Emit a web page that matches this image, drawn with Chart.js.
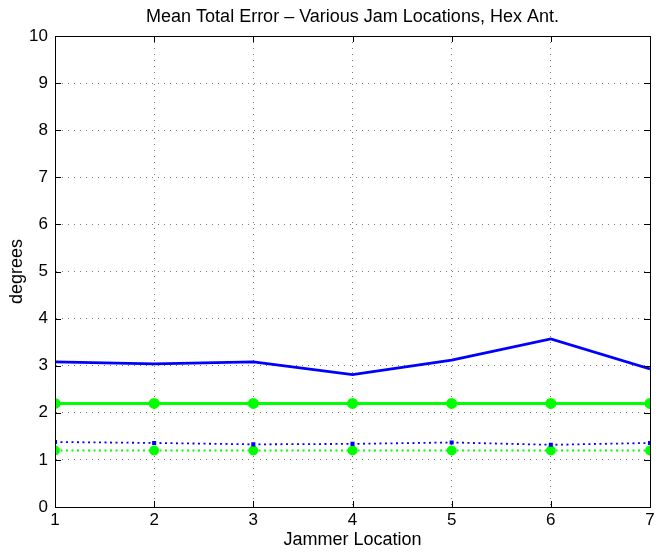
<!DOCTYPE html>
<html>
<head>
<meta charset="utf-8">
<script src="https://cdn.jsdelivr.net/npm/chart.js@4/dist/chart.umd.min.js"></script>
<style>
  html, body { margin: 0; padding: 0; background: #fff; }
  #wrap { width: 670px; height: 553px; }
</style>
</head>
<body>
<div id="wrap"><canvas id="errChart" width="670" height="553"></canvas></div>
<script>
// jammer locations on the x axis
const locations = [1, 2, 3, 4, 5, 6, 7];

// mean total error (degrees)
const blueSolid = [3.08, 3.04, 3.08, 2.81, 3.12, 3.57, 2.93];
const greenSolid = [2.2, 2.2, 2.2, 2.2, 2.2, 2.2, 2.2];
const blueDotted = [1.38, 1.36, 1.33, 1.34, 1.37, 1.32, 1.36];
const greenDotted = [1.2, 1.2, 1.2, 1.2, 1.2, 1.2, 1.2];

const yTicks = [0, 1, 2, 3, 4, 5, 6, 7, 8, 9, 10];

const FONT = "'Liberation Sans', Arial, Helvetica, sans-serif";

function toPoints(vals) {
  return locations.map((x, i) => ({ x: x, y: vals[i] }));
}

// box round the axes plus inward ticks, matlab style
const boxPlugin = {
  id: 'matlabBox',
  afterDraw(chart) {
    const ctx = chart.ctx;
    const a = chart.chartArea;
    const xs = chart.scales.x;
    const ys = chart.scales.y;
    ctx.save();
    ctx.strokeStyle = '#000';
    ctx.lineWidth = 1;
    ctx.beginPath();
    xs.ticks.forEach(t => {
      const px = Math.round(xs.getPixelForValue(t.value)) + 0.5;
      ctx.moveTo(px, a.bottom); ctx.lineTo(px, a.bottom - 6);
      ctx.moveTo(px, a.top); ctx.lineTo(px, a.top + 6);
    });
    ys.ticks.forEach(t => {
      const py = Math.round(ys.getPixelForValue(t.value)) + 0.5;
      ctx.moveTo(a.left, py); ctx.lineTo(a.left + 6, py);
      ctx.moveTo(a.right, py); ctx.lineTo(a.right - 6, py);
    });
    ctx.stroke();
    ctx.strokeRect(Math.round(a.left) + 0.5, Math.round(a.top) + 0.5,
      Math.round(a.right - a.left), Math.round(a.bottom - a.top));
    ctx.restore();
  }
};

const data = {
  datasets: [
    {
      label: 'blue solid',
      data: toPoints(blueSolid),
      borderColor: '#0000ff',
      backgroundColor: '#0000ff',
      borderWidth: 2.8,
      pointRadius: 0,
    },
    {
      label: 'green solid',
      data: toPoints(greenSolid),
      borderColor: '#00ff00',
      backgroundColor: '#00ff00',
      borderWidth: 3,
      pointRadius: 4,
    },
    {
      label: 'blue dotted',
      data: toPoints(blueDotted),
      borderColor: '#0000ff',
      backgroundColor: '#0000ff',
      borderWidth: 1.8,
      borderDash: [2, 3.5],
      pointStyle: 'rect',
      pointRadius: 1.6,
    },
    {
      label: 'green dotted',
      data: toPoints(greenDotted),
      borderColor: '#00ff00',
      backgroundColor: '#00ff00',
      borderWidth: 1.8,
      borderDash: [2, 3.5],
      pointRadius: 4,
    },
  ],
};

const config = {
  type: 'line',
  data: data,
  options: {
    responsive: false,
    animation: false,
    layout: { padding: { left: 0, right: 20, top: 0, bottom: 0 } },
    plugins: {
      legend: { display: false },
      tooltip: { enabled: false },
      title: {
        display: true,
        text: 'Mean Total Error \u2013 Various Jam Locations, Hex Ant.',
        color: '#000',
        fullSize: false,
        font: { family: FONT, size: 18, weight: 'normal' },
        padding: { top: 6, bottom: 8.4 },
      },
    },
    scales: {
      x: {
        type: 'linear',
        min: 1,
        max: 7,
        afterBuildTicks(scale) {
          scale.ticks = locations.map(v => ({ value: v }));
        },
        afterFit(scale) { scale.height = 46; },
        grid: {
          color: '#777',
          lineWidth: 1,
          drawTicks: false,
        },
        border: { display: true, color: '#000', width: 1, dash: [1, 5] },
        ticks: {
          color: '#000',
          padding: 3,
          font: { family: FONT, size: 17 },
          maxRotation: 0,
        },
        title: {
          display: true,
          text: 'Jammer Location',
          color: '#000',
          font: { family: FONT, size: 18 },
          padding: { top: 0, bottom: 2 },
        },
      },
      y: {
        type: 'linear',
        min: 0,
        max: 10,
        afterBuildTicks(scale) {
          scale.ticks = yTicks.map(v => ({ value: v }));
        },
        afterFit(scale) { scale.width = 55; },
        grid: {
          color: '#777',
          lineWidth: 1,
          drawTicks: false,
        },
        border: { display: true, color: '#000', width: 1, dash: [1, 5] },
        ticks: {
          color: '#000',
          padding: 7,
          font: { family: FONT, size: 17 },
        },
        title: {
          display: true,
          text: 'degrees',
          color: '#000',
          font: { family: FONT, size: 18 },
          padding: { top: 6, bottom: 0 },
        },
      },
    },
  },
  plugins: [boxPlugin],
};

const ctx = document.getElementById('errChart').getContext('2d');
const myChart = new Chart(ctx, config);
</script>
</body>
</html>
